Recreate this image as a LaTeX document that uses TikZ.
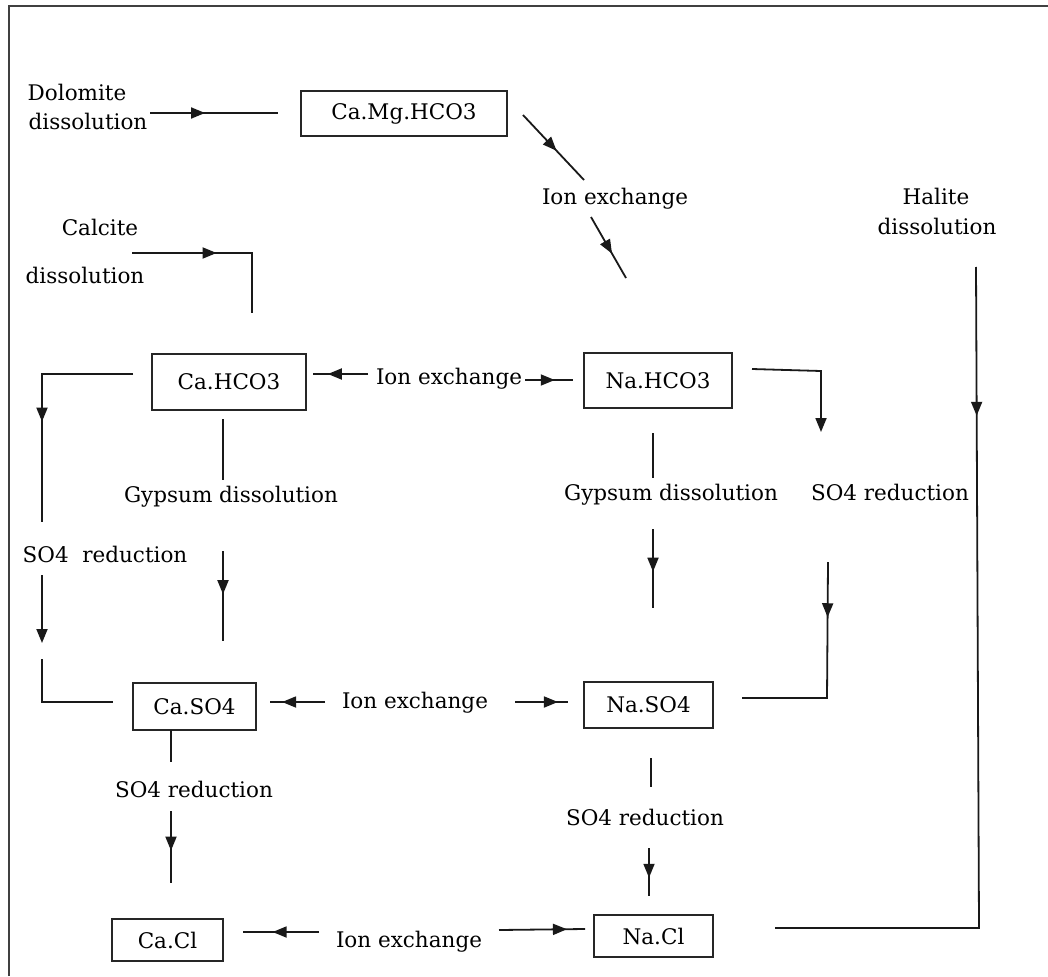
\documentclass[tikz,border=0pt]{standalone}
\usepackage{fontspec}
\setmainfont{DejaVu Serif}
\usetikzlibrary{arrows.meta,decorations.markings}
\begin{document}
\begin{tikzpicture}[x=1pt,y=-1pt,
  >={Triangle[length=14pt,width=11pt]},
  conn/.style={line width=1.8pt, draw=black!90},
  midarr/.style={postaction={decorate},decoration={markings,mark=at position #1 with {\arrow{>}}}},
  box/.style={draw=black!85, line width=2.2pt, inner sep=0pt, font=\fontsize{21.5}{26}\selectfont},
  lbl/.style={anchor=base, inner sep=0pt, font=\fontsize{21.5}{26}\selectfont},
]
\useasboundingbox (0,0) rectangle (1048,976);
% frame
\draw[draw=black!75, line width=2.4pt] (9,976) -- (9,6) -- (1048,6);

% boxes
\node[box, minimum width=206pt, minimum height=45pt] (cmh) at (404,113.5) {Ca.Mg.HCO3};
\node[box, minimum width=154pt, minimum height=56pt] (chc) at (229,382) {Ca.HCO3};
\node[box, minimum width=148pt, minimum height=55pt] (nhc) at (658,380.5) {Na.HCO3};
\node[box, minimum width=123pt, minimum height=47pt] (cso) at (194.5,706.5) {Ca.SO4};
\node[box, minimum width=129pt, minimum height=46pt] (nso) at (648.5,705) {Na.SO4};
\node[box, minimum width=111pt, minimum height=42pt] (ccl) at (167.5,940) {Ca.Cl};
\node[box, minimum width=119pt, minimum height=42pt] (ncl) at (653.5,936) {Na.Cl};

% labels
\node[lbl] (dolA) at (77,101) {Dolomite};
\node[lbl] (dolB) at (88,130) {dissolution};
\node[lbl] (calA) at (100,236) {Calcite};
\node[lbl] (calB) at (85,283) {dissolution};
\node[lbl] (ie1) at (615,205) {Ion exchange};
\node[lbl] (halA) at (936,205) {Halite};
\node[lbl] (halB) at (937,234) {dissolution};
\node[lbl] (ie2) at (449,384) {Ion exchange};
\node[lbl] (gd1) at (231,502) {Gypsum dissolution};
\node[lbl] (gd2) at (671,500) {Gypsum dissolution};
\node[lbl] (sr1) at (105,562) {SO4\ \ reduction};
\node[lbl] (sr2) at (890,500) {SO4 reduction};
\node[lbl] (ie3) at (415,708) {Ion exchange};
\node[lbl] (sr3) at (194,797) {SO4 reduction};
\node[lbl] (sr4) at (645,825) {SO4 reduction};
\node[lbl] (ie4) at (409,947) {Ion exchange};

% connector end points
\coordinate (d1) at (150,113);   \coordinate (d2) at (278,113);
\coordinate (c1) at (132,253);   \coordinate (c2) at (252,253);   \coordinate (c3) at (252,313);
\coordinate (g1) at (523,115);   \coordinate (g2) at (584,180);
\coordinate (g3) at (591,217);   \coordinate (g4) at (626,278);
\coordinate (h1) at (976,267);   \coordinate (h2) at (979,928);   \coordinate (h3) at (775,928);
\coordinate (a1) at (133,374);   \coordinate (a2) at (42,374);    \coordinate (a3) at (42,522);
\coordinate (b1) at (368,374);   \coordinate (b2) at (313,374);
\coordinate (b3) at (525,380);   \coordinate (b4) at (573,380);
\coordinate (e1) at (223,419);   \coordinate (e2) at (223,480);
\coordinate (e3) at (223,551);   \coordinate (e4) at (223,641);
\coordinate (f1) at (42,575);    \coordinate (f2) at (42,643);
\coordinate (n1) at (752,369);   \coordinate (n2) at (821,371);   \coordinate (n3) at (821,432);
\coordinate (m1) at (653,433);   \coordinate (m2) at (653,478);
\coordinate (m3) at (653,529);   \coordinate (m4) at (653,608);
\coordinate (r1) at (828,562);   \coordinate (r2) at (827,698);   \coordinate (r3) at (742,698);
\coordinate (s1) at (42,659);    \coordinate (s2) at (42,702);    \coordinate (s3) at (113,702);
\coordinate (t1) at (325,702);   \coordinate (t2) at (270,702);
\coordinate (t3) at (515,702);   \coordinate (t4) at (568,702);
\coordinate (u1) at (171,730);   \coordinate (u2) at (171,762);
\coordinate (u3) at (171,811);   \coordinate (u4) at (171,883);
\coordinate (v1) at (651,758);   \coordinate (v2) at (651,787);
\coordinate (v3) at (649,848);   \coordinate (v4) at (649,896);
\coordinate (w1) at (319,932);   \coordinate (w2) at (243,932);
\coordinate (w3) at (499,930);   \coordinate (w4) at (585,929);

% connectors
\draw[conn, midarr=0.43] (d1) -- (d2);
\draw[conn, midarr=0.47] (c1) -- (c2) -- (c3);
\draw[conn, midarr=0.55] (g1) -- (g2);
\draw[conn, midarr=0.6] (g3) -- (g4);
\draw[conn, midarr=0.172] (h1) -- (h2) -- (h3);
\draw[conn, midarr=0.58] (a1) -- (a2) -- (a3);
\draw[conn, midarr=0.73] (b1) -- (b2);
\draw[conn, midarr=0.62] (b3) -- (b4);
\draw[conn] (e1) -- (e2);
\draw[conn, midarr=0.48] (e3) -- (e4);
\draw[conn, ->] (f1) -- (f2);
\draw[conn, ->] (n1) -- (n2) -- (n3);
\draw[conn] (m1) -- (m2);
\draw[conn, midarr=0.54] (m3) -- (m4);
\draw[conn, midarr=0.25] (r1) -- (r2) -- (r3);
\draw[conn] (s1) -- (s2) -- (s3);
\draw[conn, midarr=0.78] (t1) -- (t2);
\draw[conn, midarr=0.81] (t3) -- (t4);
\draw[conn] (u1) -- (u2);
\draw[conn, midarr=0.55] (u3) -- (u4);
\draw[conn] (v1) -- (v2);
\draw[conn, midarr=0.62] (v3) -- (v4);
\draw[conn, midarr=0.61] (w1) -- (w2);
\draw[conn, midarr=0.79] (w3) -- (w4);
\end{tikzpicture}
\end{document}
